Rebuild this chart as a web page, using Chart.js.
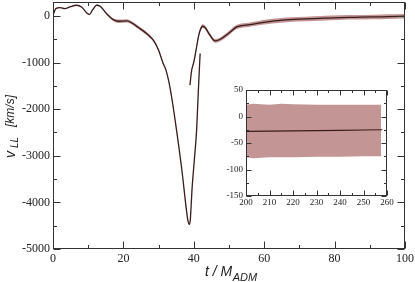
<!DOCTYPE html>
<html>
<head>
<meta charset="utf-8">
<script src="https://cdn.jsdelivr.net/npm/chart.js@4"></script>
<style>
  body { margin: 0; background: #fff; }
  .frame { position: relative; width: 415px; height: 282px; }
  #mainChart { position: absolute; left: 0; top: 0; }
  #insetChart { position: absolute; left: 216px; top: 84px; }
</style>
</head>
<body>
<div class="frame">
  <canvas id="mainChart" width="415" height="282"></canvas>
  <canvas id="insetChart" width="180" height="130"></canvas>
</div>
<script>
// main curve, first branch (t in M_ADM, v in km/s, half width of the error band)
const tA = [0, 0.8, 2, 3.4, 4.8, 6.7, 8.1, 9.6, 10.3, 11.3, 12.4, 13.4, 15.2, 17.1, 18.6, 21, 22.4, 24.3, 26.6, 28.5, 30, 31.3, 32.1, 33.2, 34.2, 35.1, 36.6, 37.9, 38.3, 38.7, 39.0, 39.5, 40.2, 40.8, 41.3, 41.8]
const vA = [15, 158, 180, 158, 193, 230, 193, 65, 30, 137, 230, 208, 51, -77, -113, -107, -150, -248, -377, -520, -734, -1020, -1163, -1520, -1980, -2450, -3300, -4160, -4380, -4470, -4380, -3715, -3045, -2450, -1590, -805]
const sA = [8, 8, 8, 8, 8, 8, 8, 8, 8, 8, 10, 12, 20, 30, 35, 35, 35, 35, 35, 30, 25, 15, 15, 12, 12, 12, 12, 12, 12, 12, 12, 12, 12, 12, 12, 12]

// second branch
const tB = [38.9, 39.4, 39.9, 40.3, 40.8, 41.3, 41.8, 42.5, 43.2, 44.6, 46, 47.4, 49.8, 52.2, 55.9, 58, 60.7, 64, 67.3, 72, 76, 81.5, 86, 91, 95, 100]
const vB = [-1484, -1163, -1020, -877, -663, -450, -306, -220, -248, -413, -535, -505, -377, -235, -185, -160, -128, -100, -77, -64, -50, -34, -28, -21, -14, -6]
const sB = [15, 20, 25, 30, 35, 40, 40, 40, 40, 40, 40, 40, 45, 45, 45, 45, 50, 50, 50, 50, 50, 50, 50, 50, 50, 50]

// inset: late times
const tInset = [200, 210, 220, 230, 240, 250, 258]
const vInset = [-28, -27.5, -27, -26.5, -26, -25.5, -25]
const tBand = [200, 203, 210, 215, 220, 230, 240, 250, 257.5]
const bandHigh = [22, 24, 22, 24, 23, 22, 22, 22, 22]
const bandLow = [-77, -79, -77, -77, -77, -76, -76, -75, -75]

const xTicks = [0, 20, 40, 60, 80, 100]
const yTicks = [-5000, -4000, -3000, -2000, -1000, 0]
const xTicksInset = [200, 210, 220, 230, 240, 250, 260]
const yTicksInset = [-150, -100, -50, 0, 50]

const lineColor = '#3a1c1c'
const bandColor = 'rgba(188, 138, 137, 0.9)'
const axisColor = '#333'
const serif = '"Liberation Serif", "DejaVu Serif", serif'
const sans = '"Liberation Sans", Arial, sans-serif'

function points(xs, ys, offset, sign) {
  return xs.map((x, i) => ({ x, y: ys[i] + (offset ? sign * offset[i] : 0) }))
}

function curve(data) {
  return {
    data,
    borderColor: lineColor,
    borderWidth: 1.3,
    pointRadius: 0,
    fill: false,
    cubicInterpolationMode: 'monotone'
  }
}

function edge(data, fill) {
  return {
    data,
    borderWidth: 0,
    borderColor: 'transparent',
    backgroundColor: bandColor,
    pointRadius: 0,
    fill,
    cubicInterpolationMode: 'monotone'
  }
}

function between(lo, hi, step) {
  const out = []
  for (let v = lo; v <= hi; v += step) out.push(v)
  return out
}

function axis(min, max, ticks, font, pad, size, horizontal) {
  return {
    type: 'linear',
    min,
    max,
    grid: { display: false, drawTicks: false },
    border: { display: false },
    afterBuildTicks: scale => {
      scale.ticks = ticks.map(value => ({ value }))
    },
    afterFit: scale => {
      if (horizontal) scale.height = size
      else scale.width = size
      scale.paddingLeft = 0
      scale.paddingRight = 0
      scale.paddingTop = 0
      scale.paddingBottom = 0
    },
    ticks: {
      font: { family: serif, size: font },
      color: '#222',
      padding: pad,
      maxRotation: 0,
      autoSkip: false,
      callback: v => String(v)
    }
  }
}

function frame(marks) {
  return {
    id: 'frame',
    afterDraw(chart) {
      const { ctx, chartArea: a, scales: { x, y } } = chart
      const L = Math.round(a.left) + 0.5
      const R = Math.round(a.right) - 0.5
      const T = Math.round(a.top) + 0.5
      const B = Math.round(a.bottom) - 0.5
      ctx.save()
      ctx.strokeStyle = axisColor
      ctx.lineWidth = 1
      ctx.beginPath()
      const tick = (values, len) => {
        values.forEach(v => {
          const px = Math.round(x.getPixelForValue(v)) + 0.5
          ctx.moveTo(px, B); ctx.lineTo(px, B - len)
          ctx.moveTo(px, T); ctx.lineTo(px, T + len)
        })
      }
      const tickY = (values, len) => {
        values.forEach(v => {
          const py = Math.round(y.getPixelForValue(v)) + 0.5
          ctx.moveTo(L, py); ctx.lineTo(L + len, py)
          ctx.moveTo(R, py); ctx.lineTo(R - len, py)
        })
      }
      tick(marks.xMajor, marks.major)
      tick(marks.xMinor, marks.minor)
      tickY(marks.yMajor, marks.major)
      tickY(marks.yMinor, marks.minor)
      ctx.stroke()
      ctx.strokeRect(L, T, R - L, B - T)
      ctx.restore()
    }
  }
}

const titles = {
  id: 'titles',
  afterDraw(chart) {
    const ctx = chart.ctx
    ctx.save()
    ctx.fillStyle = '#222'
    ctx.textBaseline = 'alphabetic'

    ctx.font = 'italic 14px ' + sans
    ctx.fillText('t / M', 205, 276)
    const w = ctx.measureText('t / M').width
    ctx.font = 'italic 11px ' + sans
    ctx.fillText('ADM', 205 + w + 0.5, 281)

    ctx.translate(15, 158)
    ctx.rotate(-Math.PI / 2)
    ctx.font = 'italic 14px ' + sans
    ctx.fillText('v', 0, 0)
    ctx.font = 'italic 10px ' + sans
    ctx.fillText('LL', 10, 3)
    ctx.font = 'italic 12px ' + sans
    ctx.fillText('[km/s]', 31, -1)
    ctx.restore()
  }
}

new Chart(document.getElementById('mainChart').getContext('2d'), {
  type: 'line',
  data: {
    datasets: [
      curve(points(tA, vA)),
      curve(points(tB, vB)),
      edge(points(tA, vA, sA, 1), false),
      edge(points(tA, vA, sA, -1), '-1'),
      edge(points(tB, vB, sB, 1), false),
      edge(points(tB, vB, sB, -1), '-1')
    ]
  },
  options: {
    responsive: false,
    animation: false,
    layout: { padding: { left: 0, top: 2, right: 10, bottom: 0 } },
    plugins: { legend: { display: false }, tooltip: { enabled: false } },
    scales: {
      x: axis(0, 100, xTicks, 12, 3, 33, true),
      y: axis(-5000, 300, yTicks, 12, 3, 53, false)
    }
  },
  plugins: [frame({
    xMajor: xTicks,
    xMinor: between(10, 90, 20),
    yMajor: yTicks,
    yMinor: between(-4500, -500, 1000),
    major: 7,
    minor: 3.5
  }), titles]
})

new Chart(document.getElementById('insetChart').getContext('2d'), {
  type: 'line',
  data: {
    datasets: [
      { ...curve(points(tInset, vInset)), cubicInterpolationMode: 'default', tension: 0, borderWidth: 1.2 },
      { ...edge(points(tBand, bandHigh), false), tension: 0, cubicInterpolationMode: 'default' },
      { ...edge(points(tBand, bandLow), '-1'), tension: 0, cubicInterpolationMode: 'default' }
    ]
  },
  options: {
    responsive: false,
    animation: false,
    layout: { padding: { left: 0, top: 6, right: 9, bottom: 0 } },
    plugins: { legend: { display: false }, tooltip: { enabled: false } },
    scales: {
      x: axis(200, 260, xTicksInset, 9, 1, 18, true),
      y: axis(-150, 50, yTicksInset, 9, 3, 30, false)
    }
  },
  plugins: [frame({
    xMajor: xTicksInset,
    xMinor: between(205, 255, 10),
    yMajor: yTicksInset,
    yMinor: between(-125, 25, 50),
    major: 5,
    minor: 2.5
  })]
})
</script>
</body>
</html>
